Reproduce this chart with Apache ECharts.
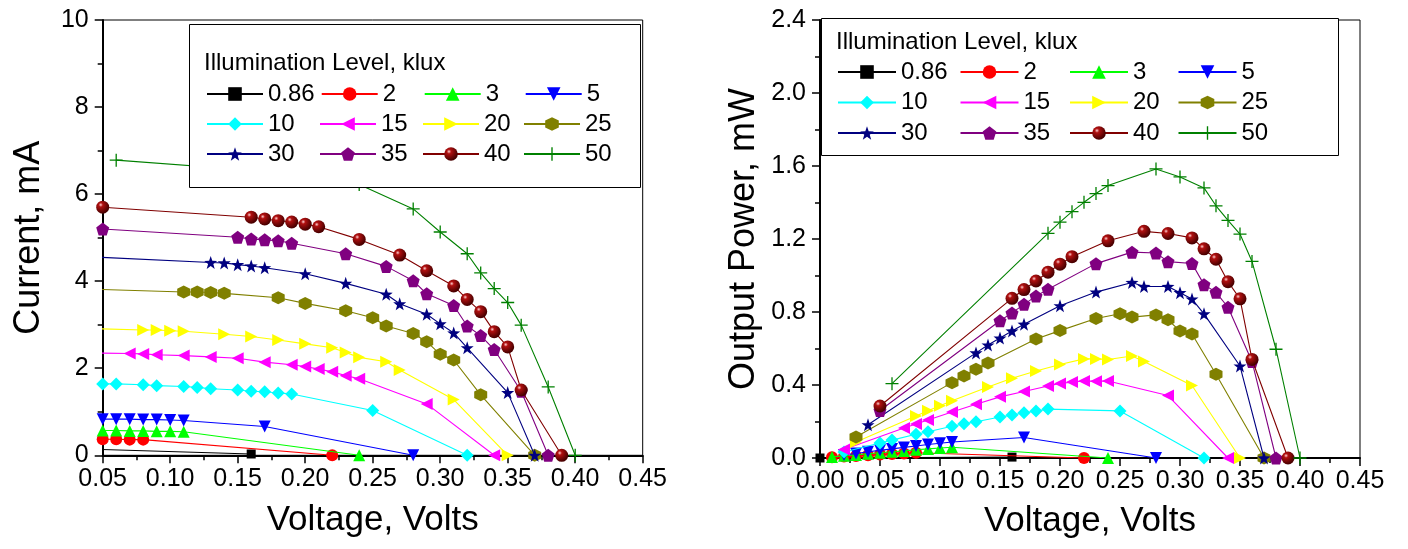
<!DOCTYPE html>
<html>
<head>
<meta charset="utf-8">
<script src="https://cdn.jsdelivr.net/npm/echarts@6/dist/echarts.min.js"></script>
<style>
html,body{margin:0;padding:0;background:#fff;}
#chart{width:1408px;height:549px;}
</style>
</head>
<body>
<div id="chart"></div>
<script>
// ---- data ----
const seriesNames = ['0.86','2','3','5','10','15','20','25','30','35','40','50'];

const v086 = [0.00, 0.16];
const i086 = [0.18, 0.03];
const p086 = [0.000, 0.005];

const v2 = [0.01,0.02,0.03,0.04,0.05,0.06,0.07,0.08,0.22];
const i2 = [0.38,0.38,0.38,0.37,0.37,0.37,0.36,0.36,0.00];
const p2 = [0.004,0.008,0.011,0.015,0.019,0.022,0.025,0.029,0.000];

const v3 = [0.01,0.02,0.03,0.04,0.05,0.06,0.07,0.08,0.09,0.10,0.11,0.24];
const i3 = [0.58,0.58,0.57,0.57,0.57,0.57,0.56,0.56,0.55,0.55,0.54,0.00];
const p3 = [0.006,0.012,0.017,0.023,0.029,0.034,0.039,0.045,0.050,0.055,0.059,0.000];

const v5 = [0.02,0.03,0.04,0.05,0.06,0.07,0.08,0.09,0.10,0.11,0.17,0.28];
const i5 = [0.85,0.84,0.84,0.83,0.83,0.83,0.82,0.82,0.81,0.80,0.66,0.00];
const p5 = [0.017,0.025,0.034,0.042,0.050,0.058,0.066,0.074,0.081,0.088,0.112,0.000];

const v10 = [0.02,0.05,0.06,0.08,0.09,0.11,0.12,0.13,0.15,0.16,0.17,0.18,0.19,0.25,0.32];
const i10 = [1.65,1.64,1.64,1.62,1.60,1.58,1.56,1.53,1.50,1.47,1.46,1.43,1.41,1.03,0.00];
const p10 = [0.033,0.082,0.098,0.130,0.144,0.174,0.187,0.199,0.225,0.235,0.248,0.257,0.268,0.258,0.000];

const v15 = [0.02,0.07,0.08,0.09,0.11,0.13,0.15,0.17,0.19,0.20,0.21,0.22,0.23,0.24,0.29,0.34];
const i15 = [2.36,2.34,2.33,2.31,2.29,2.26,2.23,2.14,2.08,2.04,1.98,1.92,1.83,1.76,1.18,0.00];
const p15 = [0.047,0.164,0.186,0.208,0.252,0.294,0.335,0.364,0.395,0.408,0.416,0.422,0.421,0.422,0.342,0.000];

const v20 = [0.03,0.08,0.09,0.10,0.11,0.14,0.16,0.18,0.20,0.22,0.23,0.24,0.26,0.27,0.31,0.35];
const i20 = [2.92,2.88,2.88,2.86,2.85,2.78,2.73,2.65,2.56,2.47,2.36,2.25,2.15,1.96,1.28,0.00];
const p20 = [0.088,0.230,0.259,0.286,0.314,0.389,0.437,0.477,0.512,0.543,0.543,0.540,0.559,0.529,0.397,0.000];

const v25 = [0.03,0.11,0.12,0.13,0.14,0.18,0.20,0.23,0.25,0.26,0.28,0.29,0.30,0.31,0.33,0.37];
const i25 = [3.83,3.75,3.75,3.74,3.72,3.62,3.49,3.32,3.16,2.97,2.80,2.61,2.32,2.19,1.39,0.00];
const p25 = [0.115,0.413,0.450,0.486,0.521,0.652,0.698,0.764,0.790,0.772,0.784,0.757,0.696,0.679,0.459,0.000];

const v30 = [0.04,0.13,0.14,0.15,0.16,0.17,0.20,0.23,0.26,0.27,0.29,0.30,0.31,0.32,0.35,0.37];
const i30 = [4.56,4.43,4.42,4.38,4.35,4.31,4.17,3.95,3.70,3.48,3.24,3.02,2.81,2.47,1.44,0.00];
const p30 = [0.182,0.576,0.619,0.657,0.696,0.733,0.834,0.909,0.962,0.940,0.940,0.906,0.871,0.790,0.504,0.000];

const v35 = [0.05,0.15,0.16,0.17,0.18,0.19,0.23,0.26,0.28,0.29,0.31,0.32,0.33,0.34,0.36,0.38];
const i35 = [5.20,5.01,4.97,4.95,4.93,4.87,4.63,4.34,4.01,3.71,3.44,2.97,2.75,2.43,1.47,0.00];
const p35 = [0.260,0.752,0.795,0.842,0.887,0.925,1.065,1.128,1.123,1.076,1.066,0.950,0.908,0.826,0.529,0.000];

const v40 = [0.05,0.16,0.17,0.18,0.19,0.20,0.21,0.24,0.27,0.29,0.31,0.32,0.33,0.34,0.35,0.36,0.39];
const i40 = [5.70,5.47,5.43,5.39,5.36,5.31,5.25,4.96,4.60,4.24,3.89,3.58,3.30,2.84,2.49,1.50,0.00];
const p40 = [0.285,0.875,0.923,0.970,1.018,1.062,1.103,1.190,1.242,1.230,1.206,1.146,1.089,0.966,0.872,0.540,0.000];

const v50 = [0.06,0.19,0.20,0.21,0.22,0.23,0.24,0.28,0.30,0.32,0.33,0.34,0.35,0.36,0.38,0.40];
const i50 = [6.78,6.48,6.46,6.43,6.37,6.30,6.22,5.66,5.13,4.63,4.19,3.83,3.51,2.99,1.57,0.00];
const p50 = [0.407,1.231,1.292,1.350,1.401,1.449,1.493,1.584,1.540,1.480,1.382,1.302,1.227,1.077,0.596,0.000];

const voltages = [v086,v2,v3,v5,v10,v15,v20,v25,v30,v35,v40,v50];
const currents = [i086,i2,i3,i5,i10,i15,i20,i25,i30,i35,i40,i50];
const powers   = [p086,p2,p3,p5,p10,p15,p20,p25,p30,p35,p40,p50];

// ---- styling ----
const FONT = '"Liberation Sans", Arial, sans-serif';
const lineColors = ['#000000','#ff0000','#00ff00','#0000ff','#00ffff','#ff00ff','#ffff00','#808000','#000080','#800080','#800000','#008000'];
const sphere = new echarts.graphic.RadialGradient(0.35, 0.32, 0.65, [
  {offset:0, color:'#ffd0d0'},{offset:0.25, color:'#b01010'},{offset:1, color:'#4a0000'}]);
const markerColors = ['#000000','#ff0000','#00ff00','#0000ff','#00ffff','#ff00ff','#ffff00','#808000','#000080','#800080',sphere,'#008000'];
const symbols = [
  'rect',
  'circle',
  'triangle',
  'path://M0,0L100,0L50,87Z',
  'diamond',
  'path://M87,0L87,100L0,50Z',
  'path://M0,0L0,100L87,50Z',
  'path://M50,0L93.3,25L93.3,75L50,100L6.7,75L6.7,25Z',
  'path://M50,0L61.76,33.82L97.55,34.55L69.02,56.18L79.39,90.45L50,70L20.61,90.45L30.98,56.18L2.45,34.55L38.24,33.82Z',
  'path://M50,0L97.55,34.55L79.39,90.45L20.61,90.45L2.45,34.55Z',
  'circle',
  'path://M45,0H55V45H100V55H55V100H45V55H0V45H45Z'
];
const symbolSizes = [9,12,12,12,13,12,12,13,13,13,13,13];

function pairs(xs, ys){ return xs.map((x,k)=>[x, ys[k]]); }

const series = [];
seriesNames.forEach((name, k) => {
  [0,1].forEach(g => {
    series.push({
      name: name, type: 'line',
      xAxisIndex: g, yAxisIndex: g,
      data: pairs(voltages[k], g === 0 ? currents[k] : powers[k]),
      symbol: symbols[k], symbolSize: symbolSizes[k],
      showAllSymbol: true, clip: true,
      lineStyle: {color: lineColors[k], width: 1.1},
      itemStyle: {color: markerColors[k], borderWidth: 0},
      emphasis: {disabled: true},
      animation: false,
      z: 2 + k * 0.01
    });
  });
});

function richFor(widths){
  const r = {};
  widths.forEach((w,c)=>{ r['c'+c] = {width: w, fontSize: 24, fontFamily: FONT, color:'#000', lineHeight: 24}; });
  return r;
}
function legendFormatter(name){
  const c = seriesNames.indexOf(name) % 4;
  return '{c' + c + '|' + name + '}';
}

const axisLine = {show: true, onZero: false, lineStyle: {color: '#000', width: 2}};
const axisTick = {show: true, inside: false, length: 8, lineStyle: {color:'#000', width: 1.5}};
const minorTick = {show: true, splitNumber: 2, length: 5, lineStyle: {color:'#000', width: 1.5}};
const labelStyle = {color: '#000', fontSize: 25, fontFamily: FONT};
const nameStyleX = {color: '#000', fontSize: 35, fontFamily: FONT};
const nameStyleY = {color: '#000', fontSize: 36, fontFamily: FONT};

const option = {
  backgroundColor: '#fff',
  animation: false,
  textStyle: {fontFamily: FONT},
  grid: [
    {left: 102.7, right: 765.3, top: 20, bottom: 93.7, show: true, borderColor: '#000', borderWidth: 1, backgroundColor: 'transparent'},
    {left: 820, right: 48, top: 20, bottom: 91, show: true, borderColor: '#000', borderWidth: 1, backgroundColor: 'transparent'}
  ],
  xAxis: [
    {type: 'value', gridIndex: 0, min: 0.05, max: 0.45, interval: 0.05,
     axisLine, axisTick, minorTick, splitLine: {show:false},
     axisLabel: {...labelStyle, margin: 11, formatter: v => v.toFixed(2)},
     name: 'Voltage, Volts', nameLocation: 'middle', nameGap: 48, nameTextStyle: nameStyleX},
    {type: 'value', gridIndex: 1, min: 0, max: 0.45, interval: 0.05,
     axisLine, axisTick, minorTick, splitLine: {show:false},
     axisLabel: {...labelStyle, margin: 11, formatter: v => v.toFixed(2)},
     name: 'Voltage, Volts', nameLocation: 'middle', nameGap: 46, nameTextStyle: nameStyleX}
  ],
  yAxis: [
    {type: 'value', gridIndex: 0, min: 0, max: 10, interval: 2,
     axisLine, axisTick, minorTick, splitLine: {show:false},
     axisLabel: {...labelStyle, margin: 14, formatter: v => String(v)},
     name: 'Current, mA', nameLocation: 'middle', nameGap: 56, nameRotate: 90, nameTextStyle: nameStyleY},
    {type: 'value', gridIndex: 1, min: 0, max: 2.4, interval: 0.4,
     axisLine, axisTick, minorTick, splitLine: {show:false},
     axisLabel: {...labelStyle, margin: 14, formatter: v => v.toFixed(1)},
     name: 'Output Power, mW', nameLocation: 'middle', nameGap: 58, nameRotate: 90, nameTextStyle: nameStyleY}
  ],
  graphic: [
    {type: 'rect', z: 3, shape: {x: 189.5, y: 24.5, width: 451, height: 163}, style: {fill: '#fff', stroke: '#000', lineWidth: 1}},
    {type: 'rect', z: 3, shape: {x: 821.5, y: 18.5, width: 517, height: 137}, style: {fill: '#fff', stroke: '#000', lineWidth: 1}}
  ],
  title: [
    {text: 'Illumination Level, klux', left: 204, top: 51, padding: 0, z: 6,
     textStyle: {fontSize: 24, fontWeight: 'normal', fontFamily: FONT, color: '#000'}},
    {text: 'Illumination Level, klux', left: 836, top: 30, padding: 0, z: 6,
     textStyle: {fontSize: 24, fontWeight: 'normal', fontFamily: FONT, color: '#000'}}
  ],
  legend: [
    {data: seriesNames, left: 206, top: 82, width: 430, orient: 'horizontal', padding: 0,
     itemWidth: 56, itemHeight: 17, itemGap: 6, z: 5, selectedMode: false,
     formatter: legendFormatter,
     textStyle: {fontSize: 24, fontFamily: FONT, color: '#000', rich: richFor([45,35,33,40])}},
    {data: seriesNames, left: 837, top: 60, width: 495, orient: 'horizontal', padding: 0,
     itemWidth: 58, itemHeight: 17, itemGap: 6.5, z: 5, selectedMode: false,
     formatter: legendFormatter,
     textStyle: {fontSize: 24, fontFamily: FONT, color: '#000', rich: richFor([52,39,38,45])}}
  ],
  series: series
};

const chart = echarts.init(document.getElementById('chart'), null, {renderer: 'canvas'});
chart.setOption(option);
</script>
</body>
</html>
